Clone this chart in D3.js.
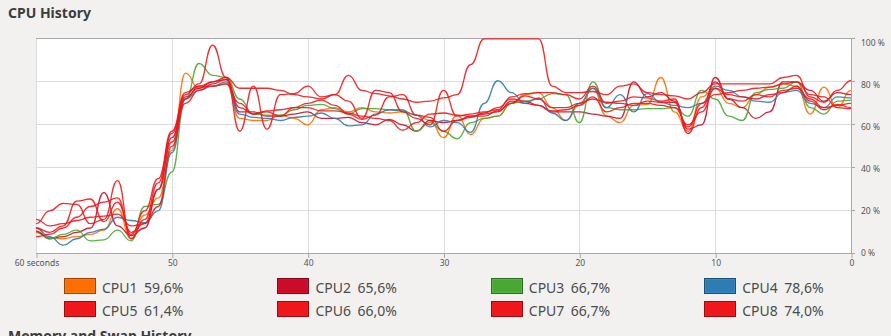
<!DOCTYPE html>
<html>
<head>
<meta charset="utf-8">
<script src="https://cdn.jsdelivr.net/npm/d3@7/dist/d3.min.js"></script>
<style>
  html, body { margin: 0; padding: 0; background: #f2f1f0; overflow: hidden; }
  svg { display: block; }
  text { font-family: "Noto Sans", "DejaVu Sans", sans-serif; }
</style>
</head>
<body>
<svg id="chart" width="891" height="336"></svg>
<script>
// CPU usage history, one sample per second, oldest (60 s ago) first.
// The last entry of each array is the newest sample, also shown in the legend.
const cpuNames = ["CPU1", "CPU2", "CPU3", "CPU4", "CPU5", "CPU6", "CPU7", "CPU8"];
const cpuColors = ["#ff6e00", "#cb0c29", "#49a835", "#2d7db3", "#f0171b", "#f0171b", "#f0171b", "#f0171b"];
const currentUsage = [59.6, 65.6, 66.7, 78.6, 61.4, 66.0, 66.7, 74.0];

const secondTicks = [60, 50, 40, 30, 20, 10, 0];
const percentTicks = [0, 20, 40, 60, 80, 100];

const cpu1 = [10, 7.5, 7, 8, 9, 11, 21, 7, 18, 26,
  48, 84, 77, 78, 79, 63, 62, 62, 64.5, 63,
  60, 67, 68, 66, 68, 66, 65.5, 66, 64.5, 62,
  54, 64.5, 55.5, 63, 64, 70, 74, 75, 68, 62,
  69, 77, 64, 61, 69, 69.5, 82, 66, 57, 73,
  77, 70, 68, 74, 77.5, 79, 78, 65, 77.5, 68,
  76, 59.6];
const cpu2 = [10.5, 7, 8, 10, 12, 28.5, 13, 8.5, 12, 30,
  54, 73, 77, 80, 81, 66, 66, 64, 64, 65,
  66, 63, 63, 63.5, 61, 60, 62.5, 60, 57, 62,
  61, 62, 64, 65, 66, 71, 70, 69, 66, 66,
  66, 65, 64, 63, 80, 73, 75, 71, 58, 60,
  82, 72, 68, 63, 66, 80, 80, 76, 71, 75,
  74, 65.6];
const cpu3 = [12, 7, 9, 11, 6, 6.5, 11, 6, 22, 23,
  38, 72, 88.5, 83, 82, 72, 65, 64.5, 64.5, 67,
  69, 69.5, 67.5, 65, 67.5, 67.5, 67, 67, 57, 61,
  57, 53.5, 61, 63, 64, 70, 71, 72, 74.5, 74,
  61, 80, 68, 67, 67, 67.5, 67.5, 68, 64, 76,
  72, 64, 62, 75, 76.5, 77, 80, 68, 65, 71,
  71.5, 66.7];
const cpu4 = [12, 8, 4, 7, 10, 11.5, 17, 15.5, 14.5, 20,
  47, 72, 76, 78, 80, 65, 63.5, 63, 62, 63.5,
  64, 65.5, 63, 59.5, 60, 65, 67, 66.5, 64.5, 59,
  62, 61, 56.5, 70, 80.5, 75, 70, 72.5, 65.5, 62,
  70, 77, 68, 74, 66, 74.5, 70.5, 69, 68, 70,
  78, 76, 73, 71, 70.5, 75, 76, 70, 68, 73,
  72.5, 78.6];
const cpu5 = [14, 20, 23.5, 23, 14, 16, 34, 7, 16, 33,
  56, 74, 79, 97, 82, 57, 78, 58, 74, 74.5,
  78, 73, 74, 83, 76, 74.5, 73.5, 72, 70.5, 71,
  72.5, 74, 88, 100, 100, 100, 100, 100, 78, 75,
  75, 75.5, 74, 78, 79, 75, 74, 73.5, 72, 75,
  79, 79, 79, 79, 79, 82, 83, 73, 70.5, 76,
  80.5, 61.4];
const cpu6 = [12, 10, 13, 24.5, 25.5, 15, 24, 10, 14, 30,
  52, 72, 78, 80, 82, 77, 77, 77, 76, 74,
  73, 72, 74, 71, 63, 76, 75, 66, 63, 60,
  76, 64, 65, 66, 67, 73, 74.5, 75, 75, 74,
  72, 78, 70, 71, 73, 72.5, 71, 72, 56, 68,
  80, 72, 71, 74, 73, 76, 77, 72, 68, 69,
  70, 66.0];
const cpu7 = [16, 13, 14, 15.5, 17, 17.5, 18.5, 13, 14, 22,
  50, 70, 76, 79, 81, 68, 65, 66, 64, 68,
  70, 71.5, 69, 65, 62.5, 64.5, 73, 74, 64.5, 63.5,
  57, 62, 63.5, 65.5, 68, 72, 71, 69, 66.5, 67,
  69, 73, 66, 68, 70, 70, 69, 68, 60, 66,
  77, 74, 73, 72, 74, 75, 78, 71, 67, 69.5,
  68, 66.7];
const cpu8 = [8, 9, 12, 17, 22, 24, 26, 9, 20, 35,
  57, 75, 78, 78, 79, 70, 65, 66.5, 67, 68,
  68, 66.5, 66.5, 65.5, 64, 63, 62, 57.5, 61, 65,
  65.5, 64.5, 64, 64, 66.5, 70, 73.5, 72, 68, 68,
  70, 72, 70.5, 70, 69, 71, 70.5, 70.5, 59, 70,
  74, 75, 76, 77, 77.5, 79, 80, 74, 73, 68,
  67.5, 74.0];

const series = [cpu1, cpu2, cpu3, cpu4, cpu5, cpu6, cpu7, cpu8];

const svg = d3.select("#chart");
const plot = { left: 36, right: 851, top: 38, bottom: 253 };

// x: seconds ago (60 on the left, 0 on the right); newest sample sits just past 0
const x = d3.scaleLinear().domain([60, 0]).range([plot.left, plot.right]);
const y = d3.scaleLinear().domain([0, 100]).range([plot.bottom, plot.top]);
// percentage labels are spread slightly inside the plot height
const yLabel = d3.scaleLinear().domain([0, 100]).range([253, 43]);

// titles
svg.append("text").attr("x", 8).attr("y", 18)
  .attr("font-size", 14).attr("font-weight", "bold").attr("fill", "#3c3c3c")
  .text("CPU History");
svg.append("text").attr("x", 8).attr("y", 341)
  .attr("font-size", 14).attr("font-weight", "bold").attr("fill", "#3c3c3c")
  .text("Memory and Swap History");

// plot background
svg.append("rect")
  .attr("x", plot.left).attr("y", plot.top)
  .attr("width", plot.right - plot.left).attr("height", plot.bottom - plot.top)
  .attr("fill", "#ffffff");

// grid
const grid = svg.append("g").attr("shape-rendering", "crispEdges");
grid.selectAll("line.h").data(percentTicks.filter(d => d > 0 && d < 100)).join("line")
  .attr("x1", plot.left).attr("x2", plot.right)
  .attr("y1", d => Math.round(y(d)) + 0.5).attr("y2", d => Math.round(y(d)) + 0.5)
  .attr("stroke", "#dcdcdc");
grid.selectAll("line.v").data(secondTicks).join("line")
  .attr("x1", d => Math.round(x(d)) + 0.5).attr("x2", d => Math.round(x(d)) + 0.5)
  .attr("y1", plot.top).attr("y2", plot.bottom)
  .attr("stroke", "#dcdcdc");

// frame: top edge, bottom axis, right axis
const frame = svg.append("g").attr("shape-rendering", "crispEdges").attr("stroke", "#a8a8a8");
frame.append("line").attr("x1", plot.left).attr("x2", plot.right)
  .attr("y1", plot.top + 0.5).attr("y2", plot.top + 0.5);
frame.append("line").attr("x1", plot.left).attr("x2", plot.right + 4)
  .attr("y1", plot.bottom + 0.5).attr("y2", plot.bottom + 0.5);
frame.append("line").attr("x1", plot.right + 0.5).attr("x2", plot.right + 0.5)
  .attr("y1", plot.top).attr("y2", plot.bottom);

// CPU lines, drawn over the frame
svg.append("clipPath").attr("id", "plotClip")
  .append("rect")
  .attr("x", plot.left).attr("y", plot.top - 2)
  .attr("width", plot.right - plot.left).attr("height", plot.bottom - plot.top + 2);

const line = d3.line()
  .x((d, i) => x(60 - i))
  .y(d => y(d) + 0.8)
  .curve(d3.curveBumpX);

svg.append("g").attr("clip-path", "url(#plotClip)")
  .selectAll("path").data(series).join("path")
  .attr("d", line)
  .attr("fill", "none")
  .attr("stroke", (d, i) => cpuColors[i])
  .attr("stroke-width", 1.3)
  .attr("stroke-linejoin", "round")
  .attr("stroke-opacity", 0.9);

// x-axis ticks and labels
const xAxis = d3.axisBottom(x).tickValues(secondTicks).tickSize(5).tickPadding(2)
  .tickFormat(d => d === 60 ? "60 seconds" : String(d));
const gx = svg.append("g").attr("transform", `translate(0.5,${plot.bottom})`).call(xAxis);
gx.select(".domain").remove();
gx.selectAll(".tick line").attr("stroke", "#a8a8a8");
gx.selectAll(".tick text").attr("font-size", 8.5).attr("fill", "#555555")
  .attr("font-family", '"Noto Sans", sans-serif');

// right axis ticks and labels
const gy = svg.append("g");
gy.selectAll("line").data(percentTicks).join("line")
  .attr("shape-rendering", "crispEdges")
  .attr("x1", plot.right).attr("x2", plot.right + 4)
  .attr("y1", d => Math.round(y(d)) + 0.5).attr("y2", d => Math.round(y(d)) + 0.5)
  .attr("stroke", "#a8a8a8");
gy.selectAll("text").data(percentTicks).join("text")
  .attr("x", 861).attr("y", d => yLabel(d))
  .attr("dy", "0.35em")
  .attr("font-size", 8.5).attr("fill", "#555555")
  .text(d => d + " %");

// legend
const legend = svg.append("g");
const items = legend.selectAll("g").data(cpuNames).join("g")
  .attr("transform", (d, i) => `translate(${64 + (i % 4) * 213.4},${278 + Math.floor(i / 4) * 23})`);
items.append("rect")
  .attr("x", 0.5).attr("y", 0.5).attr("width", 31).attr("height", 15)
  .attr("fill", (d, i) => cpuColors[i])
  .attr("stroke", (d, i) => d3.color(cpuColors[i]).darker(1.3))
  .attr("shape-rendering", "crispEdges");
items.append("rect")
  .attr("x", 1.5).attr("y", 1.5).attr("width", 29).attr("height", 13)
  .attr("fill", "none")
  .attr("stroke", (d, i) => d3.color(cpuColors[i]).brighter(0.5))
  .attr("stroke-opacity", 0.6)
  .attr("shape-rendering", "crispEdges");
items.append("text")
  .attr("x", 38).attr("y", 14.5)
  .attr("font-size", 14).attr("fill", "#4c4c4c")
  .text(d => d);
items.append("text")
  .attr("x", 80).attr("y", 14.5)
  .attr("font-size", 14).attr("fill", "#4c4c4c")
  .text((d, i) => currentUsage[i].toFixed(1).replace(".", ",") + "%");
</script>
</body>
</html>
